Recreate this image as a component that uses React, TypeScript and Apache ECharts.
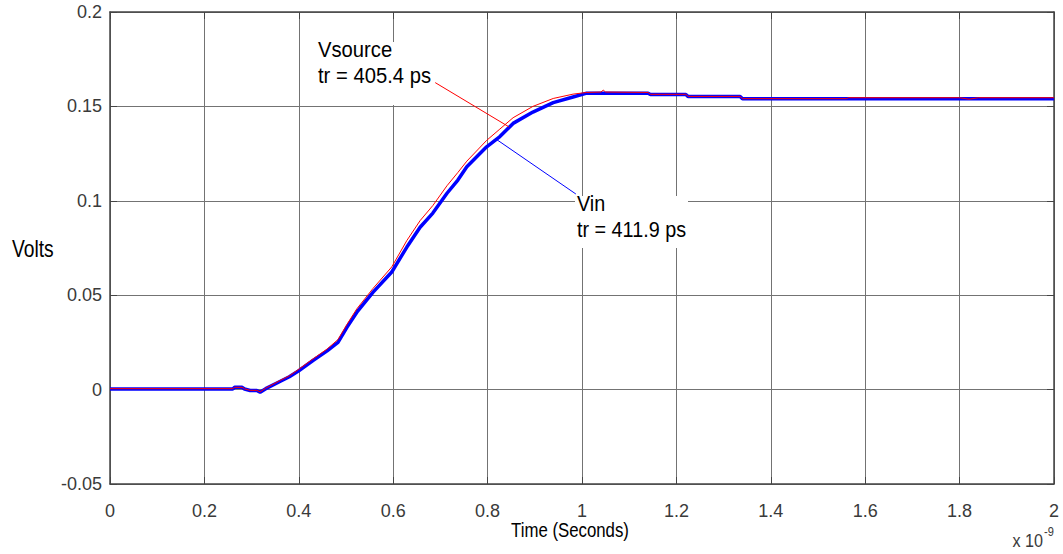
import React, { useEffect, useRef } from "react";
import * as echarts from "echarts";

// Time in nanoseconds (axis shows x 10^-9 seconds)
const timeNs = [
  0, 0.26, 0.264, 0.28, 0.285, 0.297, 0.311, 0.318, 0.33, 0.36,
  0.38, 0.4, 0.43, 0.46, 0.483, 0.502, 0.523, 0.557, 0.597, 0.629,
  0.657, 0.684, 0.714, 0.737, 0.756, 0.798, 0.826, 0.854, 0.896, 0.939,
  0.981, 1.01, 1.04, 1.045, 1.05, 1.14, 1.145, 1.22, 1.225, 1.335,
  1.34, 1.56, 1.565, 1.8, 1.82, 1.84, 2.0,
];

const vinVolts = [
  0.0003, 0.0003, 0.0012, 0.0012, 0.0003, -0.0005, -0.0005, -0.0014, 0.0005, 0.0043,
  0.0068, 0.01, 0.0154, 0.0205, 0.025, 0.033, 0.041, 0.0515, 0.0623, 0.0755,
  0.086, 0.0935, 0.104, 0.111, 0.118, 0.1286, 0.134, 0.141, 0.147, 0.152,
  0.155, 0.157, 0.157, 0.157, 0.157, 0.157, 0.1563, 0.1563, 0.1552, 0.1552,
  0.154, 0.154, 0.154, 0.154, 0.154, 0.154, 0.154,
];

const vsourceVolts = [
  0.0005, 0.0005, 0.0012, 0.0012, 0.0004, -0.0004, -0.0004, -0.0012, 0.0008, 0.0048,
  0.0073, 0.0108, 0.0162, 0.0215, 0.0265, 0.0345, 0.0428, 0.0535, 0.065, 0.079,
  0.0895, 0.0975, 0.108, 0.115, 0.121, 0.132, 0.138, 0.144, 0.15, 0.1542,
  0.1565, 0.1574, 0.1576, 0.1586, 0.1576, 0.1574, 0.1564, 0.1564, 0.1553, 0.1553,
  0.1541, 0.1541, 0.1546, 0.1546, 0.1538, 0.1546, 0.1546,
];

// leader lines [x0, y0, x1, y1] in data units
const vsourceLeader = [0.689, 0.1626, 0.845, 0.1392];
const vinLeader = [0.82, 0.1323, 0.987, 0.1036];

const vsourceLabel = ["Vsource", "tr = 405.4 ps"];
const vinLabel = ["Vin", "tr = 411.9 ps"];

const FONT = "'Liberation Sans', Arial, sans-serif";

export default function App() {
  const ref = useRef<HTMLDivElement>(null);

  useEffect(() => {
    if (!ref.current) return;
    const chart = echarts.init(ref.current, undefined, { renderer: "svg" });

    const vin = timeNs.map((t, i) => [t, vinVolts[i]]);
    const vsrc = timeNs.map((t, i) => [t, vsourceVolts[i]]);

    const axisLine = { show: true, onZero: false, lineStyle: { color: "#444", width: 1.5 } };
    const tick = { show: true, inside: true, length: 7, lineStyle: { color: "#444" } };
    const split = { show: true, lineStyle: { color: "#737373", width: 1 } };
    const labelStyle = { color: "#3a3a3a", fontFamily: FONT, fontSize: 18 };

    chart.setOption({
      animation: false,
      backgroundColor: "#fff",
      grid: { left: 110, right: 9, top: 12, bottom: 70, show: false },
      xAxis: [
        {
          type: "value",
          min: 0,
          max: 2,
          interval: 0.2,
          position: "bottom",
          axisLine,
          axisTick: tick,
          splitLine: split,
          axisLabel: { ...labelStyle, margin: 18 },
        },
        {
          type: "value",
          min: 0,
          max: 2,
          interval: 0.2,
          position: "top",
          axisLine,
          axisTick: tick,
          splitLine: { show: false },
          axisLabel: { show: false },
        },
      ],
      yAxis: [
        {
          type: "value",
          min: -0.05,
          max: 0.2,
          interval: 0.05,
          position: "left",
          axisLine,
          axisTick: tick,
          splitLine: split,
          axisLabel: { ...labelStyle, margin: 8 },
        },
        {
          type: "value",
          min: -0.05,
          max: 0.2,
          interval: 0.05,
          position: "right",
          axisLine,
          axisTick: tick,
          splitLine: { show: false },
          axisLabel: { show: false },
        },
      ],
      series: [
        {
          name: "Vin",
          type: "line",
          data: vin,
          showSymbol: false,
          symbol: "none",
          lineStyle: { color: "#0000ff", width: 3.5 },
          z: 3,
          markLine: {
            silent: true,
            symbol: "none",
            label: { show: false },
            lineStyle: { color: "#0000ff", width: 1, type: "solid" },
            data: [
              [
                { coord: [vinLeader[0], vinLeader[1]] },
                { coord: [vinLeader[2], vinLeader[3]] },
              ],
            ],
          },
        },
        {
          name: "Vsource",
          type: "line",
          data: vsrc,
          showSymbol: false,
          symbol: "none",
          lineStyle: { color: "#ff0000", width: 1 },
          z: 4,
          markLine: {
            silent: true,
            symbol: "none",
            label: { show: false },
            lineStyle: { color: "#ff0000", width: 1, type: "solid" },
            data: [
              [
                { coord: [vsourceLeader[0], vsourceLeader[1]] },
                { coord: [vsourceLeader[2], vsourceLeader[3]] },
              ],
            ],
          },
        },
      ],
      graphic: [
        { type: "rect", z: 1, shape: { x: 318, y: 42, width: 135, height: 63 }, style: { fill: "#fff" } },
        { type: "rect", z: 1, shape: { x: 575, y: 196, width: 113, height: 52 }, style: { fill: "#fff" } },
        {
          type: "text",
          z: 10,
          x: 318,
          y: 36,
          scaleX: 0.92,
          style: {
            text: vsourceLabel.join("\n"),
            fontFamily: FONT,
            fontSize: 22,
            lineHeight: 26,
            fill: "#000",
            verticalAlign: "top",
          },
        },
        {
          type: "text",
          z: 10,
          x: 577,
          y: 190,
          scaleX: 0.9,
          style: {
            text: vinLabel.join("\n"),
            fontFamily: FONT,
            fontSize: 22,
            lineHeight: 26,
            fill: "#000",
            verticalAlign: "top",
          },
        },
        {
          type: "text",
          x: 12,
          y: 249,
          scaleX: 0.82,
          style: { text: "Volts", fontFamily: FONT, fontSize: 23.5, fill: "#000", verticalAlign: "middle" },
        },
        {
          type: "text",
          x: 570,
          y: 530,
          scaleX: 0.8,
          style: {
            text: "Time (Seconds)",
            fontFamily: FONT,
            fontSize: 21,
            fill: "#000",
            align: "center",
            verticalAlign: "middle",
          },
        },
        {
          type: "text",
          x: 1043,
          y: 541,
          scaleX: 0.85,
          style: { text: "x 10", fontFamily: FONT, fontSize: 19, fill: "#3a3a3a", align: "right", verticalAlign: "middle" },
        },
        {
          type: "text",
          x: 1044,
          y: 525,
          scaleX: 0.85,
          style: { text: "-9", fontFamily: FONT, fontSize: 13, fill: "#3a3a3a", verticalAlign: "top" },
        },
      ],
    });

    return () => chart.dispose();
  }, []);

  return (
    <div
      ref={ref}
      style={{ position: "fixed", left: 0, top: 0, width: 1063, height: 554, background: "#fff" }}
    />
  );
}
